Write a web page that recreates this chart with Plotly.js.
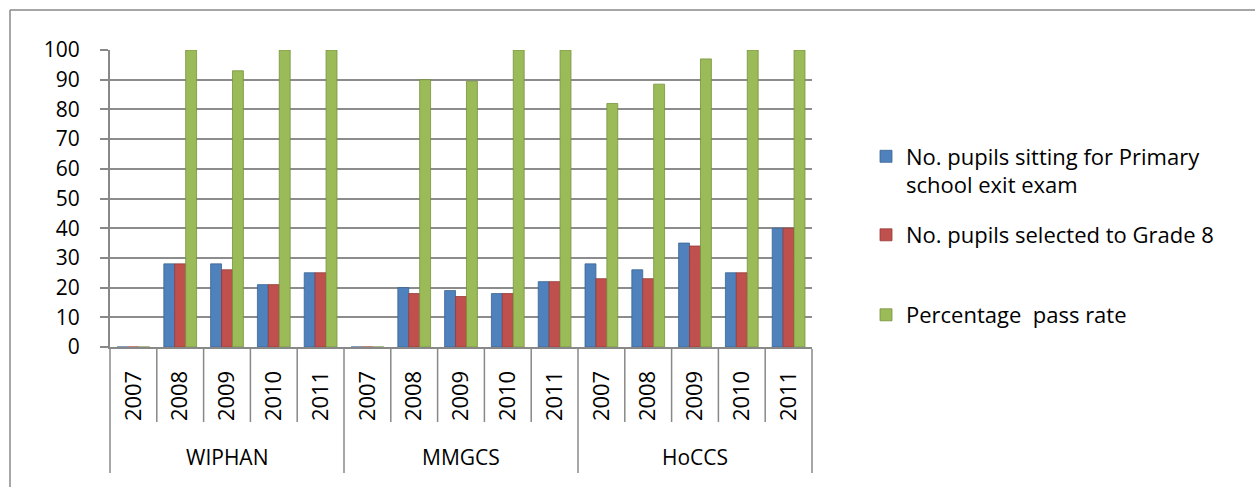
<!DOCTYPE html>
<html>
<head>
<meta charset="utf-8">
<script src="https://cdn.plot.ly/plotly-3.0.1.min.js"></script>
<style>html,body{margin:0;padding:0;background:#fff;}</style>
</head>
<body>
<div id="chart" style="width:1255px;height:487px;"></div>
<script>
const schools = ["WIPHAN","WIPHAN","WIPHAN","WIPHAN","WIPHAN",
                 "MMGCS","MMGCS","MMGCS","MMGCS","MMGCS",
                 "HoCCS","HoCCS","HoCCS","HoCCS","HoCCS"];
const years = ["2007","2008","2009","2010","2011",
               "2007","2008","2009","2010","2011",
               "2007","2008","2009","2010","2011"];
const sitting  = [0, 28, 28, 21, 25,   0, 20, 19, 18, 22,   28, 26, 35, 25, 40];
const selected = [0, 28, 26, 21, 25,   0, 18, 17, 18, 22,   23, 23, 34, 25, 40];
const passRate = [0, 100, 93, 100, 100,   0, 90, 89.5, 100, 100,   82, 88.5, 97, 100, 100];
const seriesNames = ["No. pupils sitting for Primary<br>school exit exam",
                     "No. pupils selected to Grade 8",
                     "Percentage  pass rate"];
const colors = ["#4F81BD", "#C0504D", "#9BBB59"];
const edge = ["#3A6592", "#953B39", "#76923C"];

const font = "'Open Sans', sans-serif";
const keys = schools.map((s, i) => s + " " + years[i]);
const vals = [sitting, selected, passRate];
const legendIds = ["legend", "legend2", "legend3"];
const N = keys.length;

const traces = vals.map((v, i) => ({
  type: "bar",
  x: keys,
  y: v,
  name: seriesNames[i],
  legend: legendIds[i],
  marker: {color: colors[i], line: {color: edge[i], width: 0.8}},
  hoverinfo: "y"
}));

const L = 110, R = 812, T = 50, B = 347, W = 1255, H = 487;
const px = p => (p - L) / (R - L);
const py = p => (B - p) / (B - T);

// category dividers and group labels, from the data arrays
const shapes = [];
const annotations = [];
const grey = "#888";
for (let k = 0; k <= N; k++) {
  const groupEdge = (k === 0 || k === N || schools[k] !== schools[k - 1]);
  shapes.push({type: "line", xref: "paper", yref: "paper",
    x0: k / N, x1: k / N, y0: py(349), y1: groupEdge ? py(473) : py(422),
    line: {color: grey, width: 1.5}});
}
let start = 0;
for (let k = 1; k <= N; k++) {
  if (k === N || schools[k] !== schools[k - 1]) {
    annotations.push({xref: "paper", yref: "paper", x: (start + k) / 2 / N, y: py(457),
      text: schools[start], showarrow: false, xanchor: "center", yanchor: "middle",
      font: {family: font, size: 21, color: "#000"}});
    start = k;
  }
}
// chart border (top and left)
shapes.push({type: "line", xref: "paper", yref: "paper", x0: px(10), x1: px(10), y0: py(10), y1: py(487),
  line: {color: grey, width: 1.5}});
shapes.push({type: "line", xref: "paper", yref: "paper", x0: px(10), x1: px(1255), y0: py(10), y1: py(10),
  line: {color: grey, width: 1.5}});

const legendBase = {
  xanchor: "left", yanchor: "middle",
  font: {family: font, size: 22, color: "#000"},
  bgcolor: "rgba(0,0,0,0)", itemwidth: 30
};

const layout = {
  width: W, height: H,
  margin: {l: L, r: W - R, t: T, b: H - B},
  paper_bgcolor: "#fff", plot_bgcolor: "#fff",
  bargap: 0.3, bargroupgap: 0,
  barmode: "group",
  xaxis: {
    type: "category",
    tickvals: keys, ticktext: years,
    tickangle: -90,
    tickfont: {family: font, size: 22, color: "#000"},
    showline: true, linecolor: grey, linewidth: 2,
    ticks: "", ticklabelstandoff: 13,
    showgrid: false, zeroline: false
  },
  yaxis: {
    range: [0, 100], dtick: 10,
    tickfont: {family: font, size: 21, color: "#000"},
    showline: true, linecolor: grey, linewidth: 2,
    ticks: "outside", ticklen: 8, tickcolor: grey, tickwidth: 2,
    showgrid: true, gridcolor: "#8c8c8c", gridwidth: 2,
    zeroline: false, ticklabelstandoff: 16
  },
  showlegend: true,
  legend: Object.assign({}, legendBase, {x: px(866), y: py(171), valign: "top"}),
  legend2: Object.assign({}, legendBase, {x: px(866), y: py(235)}),
  legend3: Object.assign({}, legendBase, {x: px(866), y: py(315)}),
  shapes: shapes,
  annotations: annotations
};

Plotly.newPlot("chart", traces, layout, {displayModeBar: false, staticPlot: true});
</script>
</body>
</html>
